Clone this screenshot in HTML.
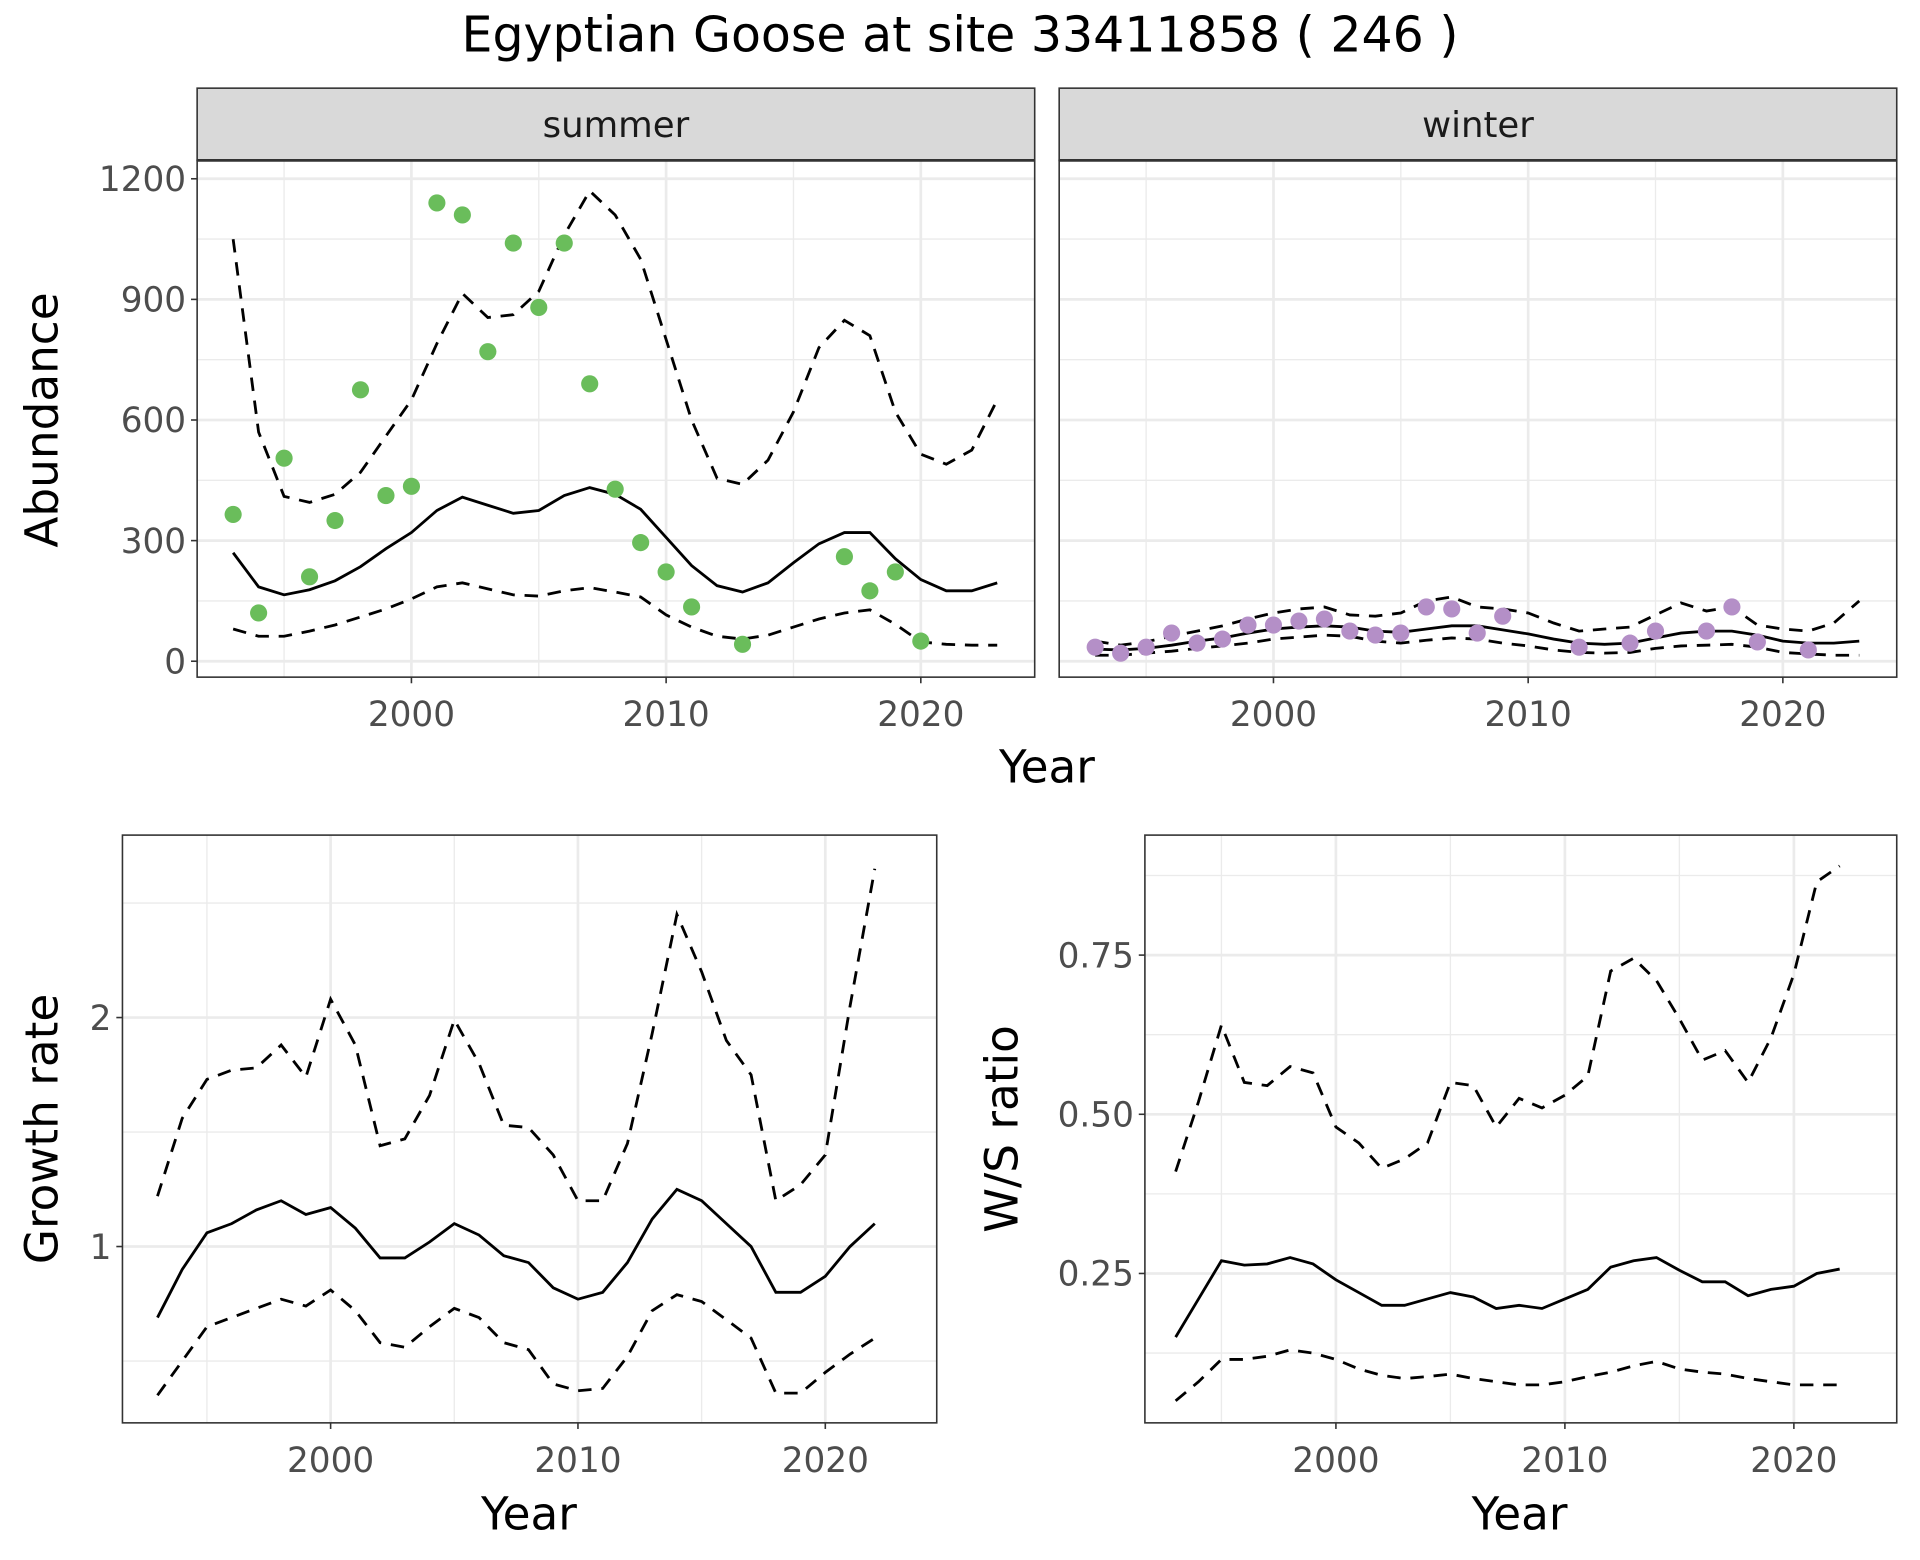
<!DOCTYPE html>
<html><head><meta charset="utf-8"><style>
html,body{margin:0;padding:0;background:#fff;}
svg{display:block;font-family:"DejaVu Sans","Liberation Sans",sans-serif;}
</style></head><body>
<svg id="chart" width="1920" height="1560" viewBox="0 0 1568 1274" xmlns="http://www.w3.org/2000/svg">
<text x="784" y="42" font-size="40" text-anchor="middle" fill="#000">Egyptian Goose at site 33411858 ( 246 )</text>
</svg>
<script>
const years31 = [1993,1994,1995,1996,1997,1998,1999,2000,2001,2002,2003,2004,2005,2006,2007,2008,2009,2010,2011,2012,2013,2014,2015,2016,2017,2018,2019,2020,2021,2022,2023];
const years30 = years31.slice(0,30);
const summerPtYears = [1993,1994,1995,1996,1997,1998,1999,2000,2001,2002,2003,2004,2005,2006,2007,2008,2009,2010,2011,2013,2017,2018,2019,2020];
const summerPtVals = [365,120,505,210,350,675,412,435,1140,1110,770,1040,880,1040,690,428,295,222,135,42,260,175,222,50];
const summerMean = [270,185,165,178,200,235,280,320,375,408,388,368,375,412,432,415,378,308,238,188,172,195,245,292,320,320,255,203,175,175,195];
const summerUpper = [1050,570,410,395,415,470,560,650,790,915,855,862,920,1060,1170,1110,1000,800,600,455,440,500,620,780,848,810,620,515,490,525,650];
const summerLower = [80,62,62,75,90,110,130,155,185,195,180,165,162,175,183,172,160,115,85,62,55,65,85,105,120,128,92,48,42,40,40];
const winterPtYears = [1993,1994,1995,1996,1997,1998,1999,2000,2001,2002,2003,2004,2005,2006,2007,2008,2009,2012,2014,2015,2017,2018,2019,2021];
const winterPtVals = [35,20,35,70,45,55,90,90,100,105,75,65,70,135,130,70,112,35,45,75,75,135,48,28];
const winterMean = [30,28,32,40,50,58,70,80,85,88,85,75,72,80,88,88,78,68,55,45,42,45,58,70,75,75,65,50,45,45,50];
const winterUpper = [50,40,48,62,75,88,105,120,130,135,115,112,120,150,160,135,130,120,95,75,80,85,115,145,125,135,90,80,75,95,150];
const winterLower = [15,15,20,25,32,38,45,55,60,65,62,50,45,52,58,55,45,38,28,22,20,22,32,38,40,42,35,22,18,15,15];
const growthMean = [0.69,0.90,1.06,1.10,1.16,1.20,1.14,1.17,1.08,0.95,0.95,1.02,1.10,1.05,0.96,0.93,0.82,0.77,0.80,0.93,1.12,1.25,1.20,1.10,1.00,0.80,0.80,0.87,1.00,1.10];
const growthUpper = [1.22,1.56,1.73,1.77,1.78,1.88,1.74,2.08,1.88,1.44,1.47,1.66,1.99,1.80,1.53,1.52,1.40,1.20,1.20,1.45,1.93,2.45,2.20,1.90,1.75,1.20,1.27,1.40,2.05,2.65];
const growthLower = [0.35,0.50,0.65,0.69,0.73,0.77,0.74,0.81,0.72,0.58,0.56,0.65,0.73,0.69,0.58,0.55,0.40,0.37,0.38,0.52,0.72,0.79,0.76,0.68,0.60,0.36,0.36,0.45,0.53,0.60];
const ratioMean = [0.15,0.21,0.27,0.263,0.265,0.275,0.265,0.24,0.22,0.20,0.20,0.21,0.22,0.213,0.195,0.20,0.195,0.21,0.225,0.26,0.27,0.275,0.255,0.237,0.237,0.215,0.225,0.23,0.25,0.257];
const ratioUpper = [0.41,0.52,0.64,0.55,0.545,0.575,0.565,0.48,0.455,0.415,0.43,0.455,0.55,0.545,0.48,0.525,0.51,0.53,0.56,0.725,0.745,0.71,0.65,0.585,0.60,0.55,0.62,0.72,0.865,0.89];
const ratioLower = [0.05,0.08,0.115,0.115,0.12,0.13,0.125,0.115,0.10,0.09,0.085,0.088,0.092,0.085,0.08,0.075,0.075,0.08,0.088,0.095,0.105,0.112,0.10,0.095,0.092,0.085,0.08,0.075,0.075,0.075];
const xTicks = [2000,2010,2020];
const xMinor = [1995,2005,2015];
const abundTicks = [0,300,600,900,1200];
const abundMinor = [150,450,750,1050];
const growthTicks = [1,2];
const growthMinor = [0.5,1.5,2.5];
const ratioTicks = [0.25,0.50,0.75];
const ratioMinor = [0.125,0.375,0.625,0.875];

const svg = document.getElementById('chart');
const NS = 'http://www.w3.org/2000/svg';
function mk(tag, attrs, parent){
  const e = document.createElementNS(NS, tag);
  for (const k in attrs) e.setAttribute(k, attrs[k]);
  (parent||svg).appendChild(e);
  return e;
}
function scale(d0,d1,r0,r1){ return v => r0 + (v-d0)*(r1-r0)/(d1-d0); }

function panel(p){
  const g = mk('g', {});
  
  
  mk('rect', {x:p.x0,y:p.y0,width:p.x1-p.x0,height:p.y1-p.y0,fill:'#fff'}, g);
  p.yMinor.forEach(v=>{ const y=p.ys(v); if(y>p.y0&&y<p.y1) mk('line',{x1:p.x0,x2:p.x1,y1:y,y2:y,stroke:'#ebebeb','stroke-width':1.1},g); });
  xMinor.forEach(v=>{ const x=p.xs(v); mk('line',{x1:x,x2:x,y1:p.y0,y2:p.y1,stroke:'#ebebeb','stroke-width':1.1},g); });
  p.yTicks.forEach(v=>{ const y=p.ys(v); mk('line',{x1:p.x0,x2:p.x1,y1:y,y2:y,stroke:'#ebebeb','stroke-width':2.2},g); });
  xTicks.forEach(v=>{ const x=p.xs(v); mk('line',{x1:x,x2:x,y1:p.y0,y2:p.y1,stroke:'#ebebeb','stroke-width':2.2},g); });
  p.series.forEach(s=>{
    const d = s.vals.map((v,i)=>(i?'L':'M')+p.xs(s.years[i]).toFixed(1)+','+p.ys(v).toFixed(1)).join(' ');
    const path = mk('path',{d:d,fill:'none',stroke:'#000','stroke-width':2.3,'stroke-dasharray':s.dash?'11,8':'none'},g);
    
    
  });
  if (p.pts){
    p.pts.vals.forEach((v,i)=>{
      const c = mk('circle',{cx:p.xs(p.pts.years[i]),cy:p.ys(v),r:7,fill:p.pts.color},g);
      
      
    });
  }
  mk('rect',{x:p.x0,y:p.y0,width:p.x1-p.x0,height:p.y1-p.y0,fill:'none',stroke:'#333','stroke-width':1.3},g);
  xTicks.forEach(v=>{ const x=p.xs(v);
    mk('line',{x1:x,x2:x,y1:p.y1,y2:p.y1+5,stroke:'#333','stroke-width':1.3},g);
    const t=mk('text',{x:x,y:p.y1+40,'font-size':28,'text-anchor':'middle',fill:'#4d4d4d'},g); t.textContent=v;
    
    
  });
  if (p.yLabels){
    p.yTicks.forEach((v,i)=>{ const y=p.ys(v);
      mk('line',{x1:p.x0-5,x2:p.x0,y1:y,y2:y,stroke:'#333','stroke-width':1.3},g);
      const t=mk('text',{x:p.x0-9,y:y+10,'font-size':28,'text-anchor':'end',fill:'#4d4d4d'},g); t.textContent=p.yLabels[i];
      
      
    });
  }
  if (p.strip){
    mk('rect',{x:p.x0,y:p.y0-59,width:p.x1-p.x0,height:59,fill:'#d9d9d9',stroke:'#333','stroke-width':1.3},g);
    mk('line',{x1:p.x0,x2:p.x1,y1:p.y0,y2:p.y0,stroke:'#333','stroke-width':2.2},g);
    const t=mk('text',{x:(p.x0+p.x1)/2,y:p.y0-19,'font-size':29,'text-anchor':'middle',fill:'#1a1a1a'},g); t.textContent=p.strip;
    
    
  }
}
function label(txt,x,y,rot,name){
  const t=mk('text',{x:x,y:y,'font-size':37,'text-anchor':'middle',fill:'#000',transform:rot?`rotate(-90 ${x} ${y})`:''});
  t.textContent=txt;
  
  
}

const ysTop = scale(0,1200,540,146);
panel({name:'summer-panel',x0:161,x1:845,y0:131,y1:553,xs:scale(2000,2020,336,752),ys:ysTop,yTicks:abundTicks,yMinor:abundMinor,yLabels:abundTicks.map(String),strip:'summer',
  series:[{name:'summer-upper',years:years31,vals:summerUpper,dash:1},{name:'summer-lower',years:years31,vals:summerLower,dash:1},{name:'summer-mean',years:years31,vals:summerMean}],
  pts:{years:summerPtYears,vals:summerPtVals,color:'#6abd5b'}});
panel({name:'winter-panel',x0:865,x1:1549,y0:131,y1:553,xs:scale(2000,2020,1040,1456),ys:ysTop,yTicks:abundTicks,yMinor:abundMinor,strip:'winter',
  series:[{name:'winter-upper',years:years31,vals:winterUpper,dash:1},{name:'winter-lower',years:years31,vals:winterLower,dash:1},{name:'winter-mean',years:years31,vals:winterMean}],
  pts:{years:winterPtYears,vals:winterPtVals,color:'#b48fc7'}});
panel({name:'growth-panel',x0:100,x1:765,y0:682,y1:1162,xs:scale(2000,2020,270,674),ys:scale(1,2,1018,831),yTicks:growthTicks,yMinor:growthMinor,yLabels:['1','2'],
  series:[{name:'growth-upper',years:years30,vals:growthUpper,dash:1},{name:'growth-lower',years:years30,vals:growthLower,dash:1},{name:'growth-mean',years:years30,vals:growthMean}]});
panel({name:'ratio-panel',x0:935,x1:1549,y0:682,y1:1162,xs:scale(2000,2020,1091,1465),ys:scale(0.25,0.75,1040,780),yTicks:ratioTicks,yMinor:ratioMinor,yLabels:['0.25','0.50','0.75'],
  series:[{name:'ratio-upper',years:years30,vals:ratioUpper,dash:1},{name:'ratio-lower',years:years30,vals:ratioLower,dash:1},{name:'ratio-mean',years:years30,vals:ratioMean}]});

label('Abundance',47,343,true,'y-axis-title-abundance');
label('Year',855,639,false,'x-axis-title-top');
label('Growth rate',47,922,true,'y-axis-title-growth');
label('W/S ratio',831,922,true,'y-axis-title-ratio');
label('Year',432,1249,false,'x-axis-title-growth');
label('Year',1241,1249,false,'x-axis-title-ratio');
</script>
</body></html>
